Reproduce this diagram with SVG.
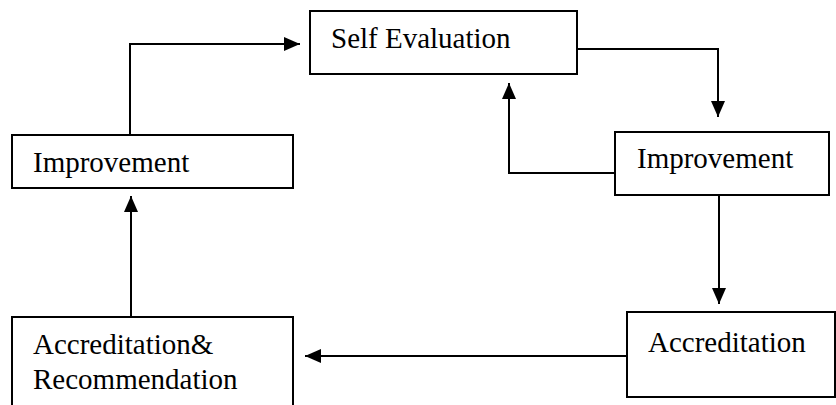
<svg xmlns="http://www.w3.org/2000/svg" width="836" height="405" viewBox="0 0 836 405">
<style>
.box{fill:#fff;stroke:#000;stroke-width:2}
.t{font-family:'Liberation Serif','DejaVu Serif',serif;font-size:29px;fill:#000}
.c{fill:none;stroke:#000;stroke-width:2}
</style>
<defs>
<marker id="ah" viewBox="0 0 16 14" refX="16" refY="7" markerWidth="16" markerHeight="14" markerUnits="userSpaceOnUse" orient="auto">
<path d="M0,0 L16,7 L0,14 Z" fill="#000"/>
</marker>
</defs>
<rect width="836" height="405" fill="#fff"/>
<g id="connectors">
<path class="c" d="M130,135 V44 H300" marker-end="url(#ah)"/>
<path class="c" d="M577,49 H718 V117" marker-end="url(#ah)"/>
<path class="c" d="M615,173 H509 V83" marker-end="url(#ah)"/>
<path class="c" d="M719,195 V304" marker-end="url(#ah)"/>
<path class="c" d="M627,356 H305" marker-end="url(#ah)"/>
<path class="c" d="M131,317 V196" marker-end="url(#ah)"/>
</g>
<g id="self-evaluation">
<rect class="box" x="310" y="11" width="267" height="63"/>
<text class="t" font-family="Liberation Serif, serif" x="331" y="48">Self Evaluation</text>
</g>
<g id="improvement-left">
<rect class="box" x="12" y="135" width="281" height="53"/>
<text class="t" font-family="Liberation Serif, serif" x="33" y="172">Improvement</text>
</g>
<g id="improvement-right">
<rect class="box" x="615" y="132" width="214" height="63"/>
<text class="t" font-family="Liberation Serif, serif" x="637" y="168">Improvement</text>
</g>
<g id="accreditation">
<rect class="box" x="627" y="312" width="208" height="85"/>
<text class="t" font-family="Liberation Serif, serif" x="648" y="352">Accreditation</text>
</g>
<g id="accreditation-recommendation">
<rect class="box" x="12" y="317" width="281" height="100"/>
<text class="t" font-family="Liberation Serif, serif" x="33" y="354">Accreditation&amp;</text>
<text class="t" font-family="Liberation Serif, serif" x="33" y="389">Recommendation</text>
</g>
</svg>
